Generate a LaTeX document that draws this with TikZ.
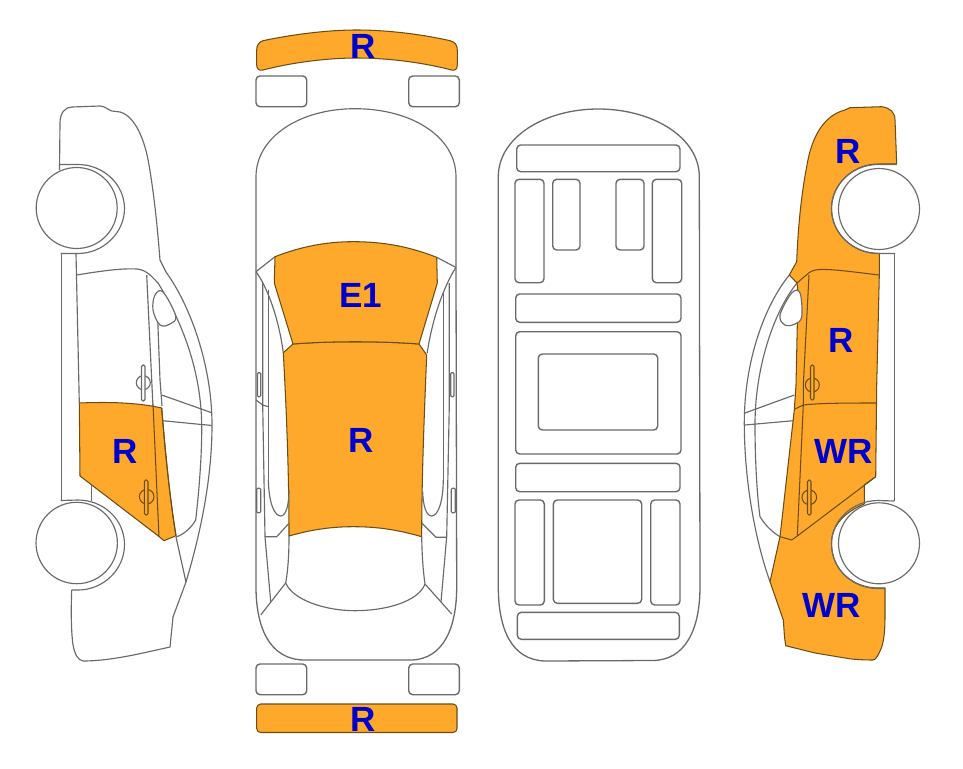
\documentclass[tikz,border=0pt]{standalone}
\usepackage{fontspec}
\setmainfont{Liberation Sans}
\definecolor{paneorange}{HTML}{FFA92C}
\definecolor{linegrey}{HTML}{6A6A6A}
\definecolor{edgebrown}{HTML}{6B4E16}
\definecolor{labelblue}{HTML}{0000CC}
\tikzset{
  ln/.style={draw=linegrey,line width=1.15pt,line join=round},
  box/.style={draw=linegrey,line width=1.4pt,rounded corners=4pt},
  pane/.style={fill=paneorange,draw=edgebrown,line width=1.05pt,line join=round},
  seam/.style={draw=edgebrown,line width=1.05pt,line join=round},
  wheel/.style={draw=linegrey,line width=1.15pt,fill=white},
  lab/.style={text=labelblue,font=\fontsize{35}{35}\selectfont\bfseries,inner sep=0pt}
}
\begin{document}
\begin{tikzpicture}[x=1pt,y=-1pt]
\useasboundingbox[fill=white] (0,0) rectangle (963,768);

% ---------- left side view ----------
\path[pane] (79.3,403) .. controls (105,402) and (135,402) .. (161.7,408)
  .. controls (165,450) and (170,500) .. (176,535.7)
  -- (164,540.7) -- (158,535.7) -- (80,476) -- cycle;
\draw[ln] (59.5,170) -- (60,123) .. controls (60,113) and (65,107) .. (72,107) -- (100,106)
  .. controls (105,106) and (108,110) .. (112,111) -- (120,112)
  .. controls (135,116) and (145,140) .. (149,165) .. controls (155,200) and (158,235) .. (160,260)
  -- (166,272);
\draw[ln] (166,272) .. controls (190,305) and (212,365) .. (212,425) .. controls (212,480) and (200,535) .. (186,582)
  -- (173,617) -- (170,647) -- (143,653) .. controls (120,658) and (100,661) .. (83,661)
  .. controls (78,660) and (75,655) .. (73,645) .. controls (71,630) and (71,610) .. (71.7,590);
\draw[ln] (59.5,164.5) -- (78,164.5) .. controls (103,164.5) and (124.5,184) .. (124.5,208.5)
  .. controls (124.5,233) and (103,253.5) .. (78,253.5) -- (60.7,253.5);
\draw[ln] (60.7,500.5) -- (78,500) .. controls (103,500) and (124.5,519) .. (124.5,544.5)
  .. controls (124.5,570) and (103,590) .. (78,590) -- (71.7,590);
\draw[ln] (61.7,253.5) -- (61.7,500.5);
\draw[ln] (76,253.5) -- (79.3,403);
\draw[ln] (91.7,485) -- (91.7,501);
\draw[ln] (76.7,275) .. controls (95,272) and (120,268) .. (137,269) .. controls (147,270) and (152,277) .. (158,283);
\draw[ln] (158,283) .. controls (178,315) and (201,365) .. (201.7,425) .. controls (202,460) and (198,500) .. (195.7,520);
\draw[ln] (195.7,520) .. controls (190,530) and (182,535) .. (176,537);
\draw[ln] (146.7,275) -- (151.7,380) -- (153,407);
\draw[seam] (153,404) -- (159,537);
\draw[ln] (156.7,293) -- (160,380) -- (162,406);
\draw[ln] (176,537) -- (186,582);
\draw[seam] (161.7,408) .. controls (165,450) and (170,500) .. (176,535.7);
\draw[ln,fill=white] plot[smooth cycle,tension=0.6] coordinates {(163,292) (155,295) (153,310) (160,325) (170,324) (175.7,316)};
\draw[ln] (161.7,395) -- (211.7,412.7);
\draw[ln] (162.7,420.7) -- (211.7,425.5);
\draw[ln] (143.3,382.7) circle[radius=7];
\draw[ln,fill=white,rounded corners=1.5pt] (141.5,365) rectangle (145,401);
\draw[seam] (146.7,496.7) circle[radius=7.3];
\draw[seam,fill=paneorange,rounded corners=1.5pt] (144.3,480) rectangle (148,515);
\draw[wheel] (76.7,208) circle[radius=40.5];
\draw[wheel] (76.7,543) circle[radius=40.7];

% ---------- top view ----------
\path[pane] (256.7,50) .. controls (256.7,45) and (259,42) .. (263,40.7)
  .. controls (290,35) and (325,30) .. (356.7,30)
  .. controls (390,30) and (425,35) .. (450,40.7)
  .. controls (455,42) and (457.3,45) .. (457.3,50) -- (457.3,65)
  .. controls (457.3,69) and (455,71) .. (451.7,70)
  .. controls (425,63) and (390,58) .. (356.7,58)
  .. controls (325,58) and (290,63) .. (263,70)
  .. controls (259,71) and (256.7,69) .. (256.7,65) -- cycle;
\draw[box] (256,76) rectangle (306.7,106.7);
\draw[box] (408.7,76) rectangle (459.3,106.7);
\draw[ln] (256,272) -- (256,176.7) .. controls (256,137) and (300,108.7) .. (355,108.7)
  .. controls (412,108.7) and (456,137) .. (456,176.7) -- (456,268);
\draw[ln,line width=1.3pt] (256,272) -- (256,586.7) .. controls (256,625) and (268,660) .. (305,660) -- (410,660)
  .. controls (445,660) and (456.7,625) .. (456.7,586.7) -- (456,268);
\path[pane] (283.3,352.7) -- (293,344) .. controls (330,341) and (380,341) .. (419,344)
  -- (426.7,355) .. controls (424,420) and (421.7,480) .. (421.7,536.7)
  .. controls (395,529) and (375,526.7) .. (353,526.7)
  .. controls (330,526.7) and (310,530) .. (289,536)
  .. controls (289,480) and (287,420) .. (283.3,352.7) -- cycle;
\path[pane] (275,256.7) .. controls (300,247) and (325,241.7) .. (353,241.7)
  .. controls (385,241.7) and (410,247) .. (436.7,257.3) -- (437.3,283)
  -- (419,344) .. controls (380,341) and (330,341) .. (293,344) -- (274.3,283) -- cycle;
\draw[ln] (256,271.7) -- (275,256.7);
\draw[ln] (436.7,257.3) -- (456,267.5);
\draw[ln] (256,271.7) .. controls (268,288) and (279,320) .. (283.3,352.7);
\draw[ln] (455.5,268) .. controls (443,288) and (432,320) .. (427.2,353);
\draw[ln] (262.7,283) -- (262.7,405) -- (265,536.7) -- (270.7,601.7);
\draw[ln] (268.3,290) -- (268.3,480);
\draw[ln] (268.3,480) .. controls (269,505) and (275,516) .. (280.7,516) .. controls (286,516) and (289,505) .. (289,490);
\draw[ln] (443.3,292) -- (443.3,480);
\draw[ln] (443.3,480) .. controls (443,505) and (437,516) .. (431.7,516) .. controls (426,516) and (423,505) .. (422.7,491.7);
\draw[ln] (449.3,283) -- (449.3,405) -- (446.7,536.7) -- (441,601.7);
\draw[ln] (256,400) -- (262.7,405) -- (268.3,406.7);
\draw[ln] (265,536.7) -- (276.7,536.7) -- (289,523.3);
\draw[ln] (421.7,523) -- (436,537.3) -- (446.7,537.3);
\draw[ln,rounded corners=1pt] (257.5,372.7) rectangle (260.7,396.7);
\draw[ln,rounded corners=1pt] (450.7,372.7) rectangle (454,396.7);
\draw[ln,rounded corners=1pt] (256.7,488.3) rectangle (260.7,512.7);
\draw[ln,rounded corners=1pt] (451.3,488.3) rectangle (455.3,512.7);
\draw[ln] (289,536) .. controls (289,555) and (288,570) .. (285.7,583);
\draw[ln] (421.7,536.7) .. controls (422,555) and (423,570) .. (425,584);
\draw[ln] (285.7,583) .. controls (293,600) and (325,610.7) .. (355,610.7)
  .. controls (385,610.7) and (418,602) .. (425,584);
\draw[ln] (285.7,583) -- (260.7,615);
\draw[ln] (425,584) -- (451.7,614);
\draw[box] (256,664) rectangle (306.7,694.7);
\draw[box] (408.7,664) rectangle (459.3,694.7);
\path[pane,rounded corners=4pt] (256.7,704) rectangle (457,732.5);

% ---------- underside view ----------
\draw[ln,line width=1.3pt] (498.3,586.7) -- (498.3,176.7) .. controls (498.3,137) and (545,109) .. (598.3,109)
  .. controls (652,109) and (699.3,137) .. (699.3,176.7) -- (700,586.7)
  .. controls (700,630) and (685,660) .. (653,660.5) -- (545,661)
  .. controls (512,660) and (498.3,630) .. (498.3,586.7) -- cycle;
\draw[box] (516.7,145) rectangle (680,171.7);
\draw[box] (515,179.3) rectangle (544,282.7);
\draw[box] (552.7,179.3) rectangle (580,250);
\draw[box] (616,179.3) rectangle (644,250);
\draw[box] (652.3,179.3) rectangle (681.7,282.7);
\draw[box] (515.7,294) rectangle (681,322.3);
\draw[box] (515.7,331.7) rectangle (681,454);
\draw[box] (538.3,354) rectangle (657.7,430);
\draw[box] (515.7,463.3) rectangle (680,491.7);
\draw[box] (515,500) rectangle (544.3,605);
\draw[box] (553.3,500) rectangle (641.7,603.3);
\draw[box] (650.7,500) rectangle (680,605);
\draw[box] (517.3,612.3) rectangle (679.3,639.3);

% ---------- right side view ----------
\draw[ln] (789.3,275) .. controls (765,305) and (744.3,360) .. (744.3,423) .. controls (744.3,480) and (755,540) .. (770,581.7);
\draw[ln] (797,283) .. controls (775,310) and (755,365) .. (755,425) .. controls (755,460) and (757,495) .. (760,516.7)
  .. controls (765,525) and (772,532) .. (780,536.7);
\path[pane] (796.7,261.7) .. controls (798,225) and (802,190) .. (807,165) .. controls (812,135) and (825,115) .. (845,110)
  -- (850,107.7) -- (881.7,106.7)
  .. controls (890,108) and (895,112) .. (895,120) -- (896.7,164)
  -- (878,164) .. controls (853,164) and (831.5,184) .. (831.5,208.7)
  .. controls (831.5,233.4) and (853,253.3) .. (878,253.3)
  -- (879.3,253.3) -- (879.3,275) -- (876.7,385) -- (875.7,476.7) -- (864.3,485) -- (864.3,504)
  .. controls (845,512) and (831.5,525) .. (831.5,543.5)
  .. controls (831.5,570) and (853,588) .. (878,588) -- (885,588)
  -- (885,616) .. controls (885,630) and (884,640) .. (881.7,647) .. controls (879,654) and (876,660) .. (873,660)
  .. controls (860,660) and (850,659) .. (845,658) -- (815,653) -- (785.7,645.7)
  .. controls (784,635) and (784,628) .. (783.3,620) -- (770,581.7) -- (780,536.7) -- (794.3,410) -- (796,385) -- (798,292) -- (797,283) -- (789.3,275) -- cycle;
\draw[seam] (797,283) -- (808.3,273.3) .. controls (815,267) and (830,269) .. (879,275);
\draw[seam] (809,275) -- (803.3,385) -- (803.3,405) -- (797.3,536);
\draw[seam] (797.3,536) -- (875.7,476.7);
\draw[seam] (780,536.7) -- (791.7,540) -- (797.3,536);
\draw[seam] (794.3,409.3) -- (803.3,405) .. controls (820,403) and (850,403) .. (876.7,403);
\draw[ln] (745,413) -- (794.3,395);
\draw[ln] (745,425) -- (793.3,420.7);
\draw[ln,fill=white] plot[smooth cycle,tension=0.6] coordinates {(800,293) (791.7,293) (780,315) (785,325) (795,324) (801.7,316.7)};
\draw[seam] (812.3,385) circle[radius=7];
\draw[seam,fill=paneorange,rounded corners=1.5pt] (810.5,365) rectangle (814,400);
\draw[seam] (809.3,497.3) circle[radius=7.3];
\draw[seam,fill=paneorange,rounded corners=1.5pt] (807.5,480) rectangle (811,515);
\draw[ln] (896.7,164.5) -- (878,164.5) .. controls (853,164.5) and (831.5,184) .. (831.5,208.7)
  .. controls (831.5,233.4) and (853,253.5) .. (878,253.5) -- (895,253.5);
\draw[ln] (894.3,253.5) -- (894.3,501);
\draw[ln] (894.3,501) -- (878,500.5) .. controls (853,500.5) and (831.5,520) .. (831.5,543.5)
  .. controls (831.5,570) and (853,588.5) .. (878,588.5) -- (885,588.5);
\draw[wheel] (879,209) circle[radius=40.5];
\draw[wheel] (879,543.3) circle[radius=40.5];

% ---------- labels ----------
\node[lab] (labBumperTop) at (363,46) {R};
\node[lab] (labWindshield) at (361,295) {E1};
\node[lab] (labRoof) at (361,440) {R};
\node[lab] (labBumperRear) at (363,719) {R};
\node[lab] (labLeftDoor) at (125,451) {R};
\node[lab] (labRightFender) at (848,151) {R};
\node[lab] (labRightFrontDoor) at (841,340) {R};
\node[lab] (labRightRearDoor) at (844,451) {WR};
\node[lab] (labRightQuarter) at (832,605) {WR};
\end{tikzpicture}
\end{document}
